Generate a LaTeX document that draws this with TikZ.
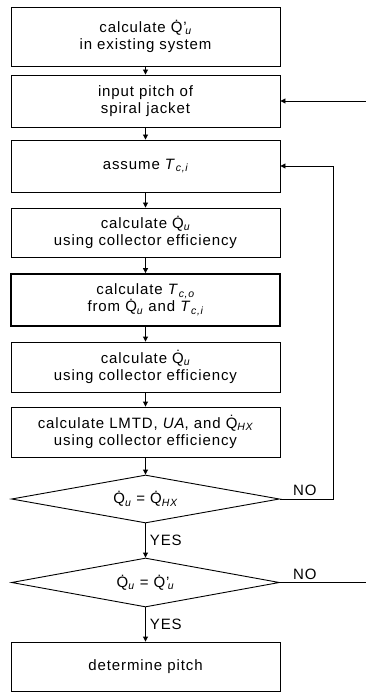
\documentclass[tikz,border=0pt]{standalone}
\usepackage{fontspec}
\setmainfont{Liberation Sans}[LetterSpace=6]
\usetikzlibrary{arrows.meta,shapes.geometric}
\newcommand\Qd{\.{Q}}
\newcommand\subi[1]{\textsubscript{\itshape #1}}
\newcommand\Qp{\.{Q}’\kern-1.5pt\textsubscript{\itshape u}}
\begin{document}
\begin{tikzpicture}[x=1pt,y=-1pt,
  every node/.style={font=\fontsize{15}{17}\selectfont},
  box/.style={draw,line width=0.9pt,minimum width=269pt,align=center,inner sep=0pt},
  dia/.style={draw,line width=0.9pt,shape=diamond,aspect=5.6,minimum width=268pt,inner sep=0pt},
  arr/.style={line width=0.9pt,-{Triangle[length=5pt,width=5pt]}},
  lbl/.style={inner sep=0pt,anchor=west}]
\useasboundingbox (0,0) rectangle (366,692);
\clip (0,0) rectangle (366,692);
\node[box,minimum height=59pt] (b1) at (145.5,36.5) {calculate \Qp\\in existing system};
\node[box,minimum height=52pt] (b2) at (145.5,101) {input pitch of\\spiral jacket};
\node[box,minimum height=52pt] (b3) at (145.5,166) {assume \textit{T}\subi{c,i}};
\node[box,minimum height=49pt] (b4) at (145.5,232.5) {calculate \Qd\subi{u}\\using collector efficiency};
\node[box,minimum height=52pt,line width=1.8pt] (b5) at (145.5,300) {calculate \textit{T}\subi{c,o}\\from \Qd\subi{u} and \textit{T}\subi{c,i}};
\node[box,minimum height=50pt] (b6) at (145.5,367) {calculate \Qd\subi{u}\\using collector efficiency};
\node[box,minimum height=50pt] (b7) at (145.5,432) {calculate LMTD, \textit{UA}, and \Qd\subi{HX}\\using collector efficiency};
\node[dia,minimum height=48pt] (d1) at (145.5,499) {\Qd\subi{u} = \Qd\subi{HX}};
\node[dia,minimum height=49pt] (d2) at (145.5,582.5) {\Qd\subi{u} = \Qp};
\node[box,minimum height=49pt] (b8) at (145.5,666.5) {determine pitch};
\draw[arr] (b1) -- (b2);
\draw[arr] (b2) -- (b3);
\draw[arr] (b3) -- (b4);
\draw[arr] (b4) -- (b5);
\draw[arr] (b5) -- (b6);
\draw[arr] (b6) -- (b7);
\draw[arr] (b7) -- (d1);
\draw[arr] (d1) -- (d2) node[lbl,pos=0.5,xshift=4pt] (yes1) {YES};
\draw[arr] (d2) -- (b8) node[lbl,pos=0.5,xshift=4pt] (yes2) {YES};
\draw[arr] (d1.east) -- ++(53,0) coordinate (c1) |- (b3.east);
\draw[arr] (d2.east) -- ++(100,0) coordinate (c2) |- (b2.east);
\node[lbl] (no1) at (293,490) {NO};
\node[lbl] (no2) at (293,574) {NO};
\end{tikzpicture}
\end{document}
